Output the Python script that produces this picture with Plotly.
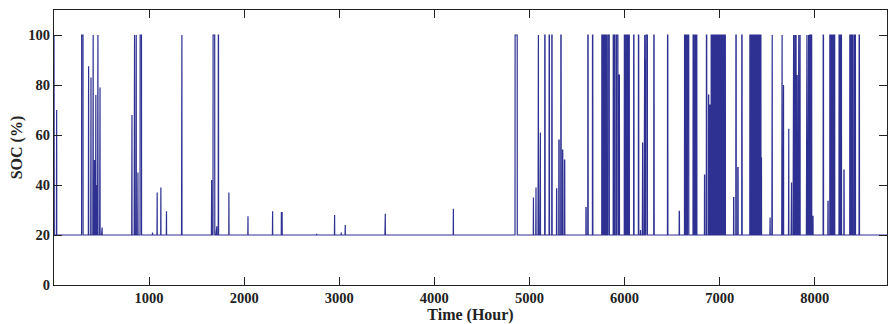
import plotly.graph_objects as go

# SOC events: start hour, end hour, peak SOC (%)
spike_start = [25, 290, 361, 386, 408, 424, 437, 445, 458, 480, 500, 817, 843, 861, 880, 905,
               1034, 1083, 1122, 1181, 1341, 1655, 1672, 1704, 1727, 1838, 2038, 2297, 2390,
               2760, 2949, 3019, 3061, 3480, 4198, 4848, 5040, 5066, 5090, 5108, 5160, 5206,
               5234, 5284, 5308, 5329, 5347, 5367, 5593, 5613, 5662, 5760, 5775, 5790, 5805,
               5825, 5880, 5895, 5915, 5942, 5997, 6015, 6030, 6045, 6095, 6145, 6167, 6187,
               6205, 6218, 6225, 6307, 6451, 6574, 6630, 6650, 6662, 6720, 6740, 6752, 6840,
               6860, 6882, 6895, 6910, 6925, 6940, 6952, 6965, 6980, 6995, 7010, 7025, 7040,
               7052, 7146, 7170, 7190, 7232, 7317, 7333, 7348, 7364, 7382, 7398, 7412, 7428,
               7436, 7528, 7549, 7653, 7668, 7724, 7752, 7772, 7786, 7798, 7810, 7826, 7842,
               7912, 7928, 7945, 7960, 7978, 8088, 8138, 8158, 8172, 8186, 8202, 8255, 8272,
               8306, 8368, 8384, 8398, 8418, 8466]
spike_end = [28, 305, 364, 389, 412, 426, 440, 447, 462, 484, 506, 820, 847, 865, 883, 920,
             1036, 1085, 1124, 1183, 1345, 1658, 1690, 1712, 1730, 1840, 2040, 2299, 2399,
             2762, 2951, 3021, 3063, 3484, 4200, 4871, 5042, 5069, 5094, 5115, 5164, 5210,
             5238, 5287, 5312, 5333, 5350, 5371, 5596, 5617, 5666, 5765, 5780, 5796, 5812,
             5839, 5885, 5900, 5930, 5946, 6003, 6020, 6035, 6050, 6099, 6149, 6169, 6190,
             6212, 6222, 6240, 6311, 6455, 6577, 6640, 6656, 6675, 6728, 6746, 6760, 6843,
             6864, 6885, 6899, 6918, 6932, 6946, 6958, 6972, 6986, 7002, 7016, 7031, 7046,
             7060, 7149, 7174, 7194, 7236, 7325, 7340, 7356, 7372, 7390, 7406, 7420, 7434,
             7440, 7531, 7553, 7657, 7672, 7727, 7756, 7778, 7792, 7804, 7816, 7832, 7846,
             7918, 7935, 7950, 7968, 7982, 8092, 8141, 8164, 8178, 8192, 8210, 8262, 8281,
             8309, 8374, 8390, 8404, 8428, 8470]
spike_peak = [70, 100, 87.5, 83, 100, 50, 76, 40, 100, 79, 23, 68, 100, 100, 45, 100,
              21, 37, 39, 29.5, 100, 42, 100, 23.5, 100, 37, 27.5, 29.5, 29,
              20.5, 28, 21, 24, 28.5, 30.5, 100, 35, 39, 100, 61, 100, 100,
              100, 38.5, 58, 100, 54, 50, 31, 100, 100, 100, 100, 100, 100,
              100, 100, 100, 100, 84, 100, 100, 100, 100, 100, 100, 22, 57,
              100, 90, 100, 100, 100, 29.5, 100, 100, 100, 100, 100, 100, 44,
              100, 76, 72, 100, 100, 100, 100, 100, 100, 100, 100, 100, 100,
              100, 35, 100, 47, 100, 100, 100, 100, 100, 100, 100, 100, 100,
              51, 27, 100, 100, 80, 62.5, 41, 100, 100, 100, 84, 100, 100,
              100, 100, 100, 100, 27.5, 100, 33.5, 100, 100, 100, 100, 100, 100,
              46, 100, 100, 100, 100, 100]
soc_min = 20
soc_initial = 100
hours_total = 8760
x_ticks = [1000, 2000, 3000, 4000, 5000, 6000, 7000, 8000]
y_ticks = [0, 20, 40, 60, 80, 100]

x = [0, 3]
y = [soc_initial, soc_min]
for s, e, p in zip(spike_start, spike_end, spike_peak):
    x += [s, s + 1, e, e + 1]
    y += [soc_min, p, p, soc_min]
x.append(hours_total)
y.append(soc_min)

font = dict(family="Liberation Serif", size=14, color="#222")

fig = go.Figure(go.Scatter(x=x, y=y, mode="lines",
                           line=dict(color="#2e3192", width=1.2),
                           showlegend=False))
axis_common = dict(showline=True, linecolor="#222", linewidth=1, mirror="ticks",
                   ticks="inside", ticklen=8, tickcolor="#222", showgrid=False,
                   zeroline=False, tickfont=dict(family="Liberation Serif", size=14.5,
                                                 color="#222", weight="bold"))
fig.update_xaxes(range=[0, hours_total], tickvals=x_ticks,
                 title=dict(text="<b>Time (Hour)</b>", font=dict(family="Liberation Serif", size=16, color="#222"),
                            standoff=5),
                 **axis_common)
fig.update_yaxes(range=[0, 110], tickvals=y_ticks,
                 title=dict(text="<b>SOC (%)</b>", font=dict(family="Liberation Serif", size=16, color="#222"),
                            standoff=1),
                 **axis_common)
fig.update_layout(width=889, height=324, margin=dict(l=54, r=2, t=10, b=39),
                  paper_bgcolor="white", plot_bgcolor="white", font=font)
fig.write_html("out.html")
